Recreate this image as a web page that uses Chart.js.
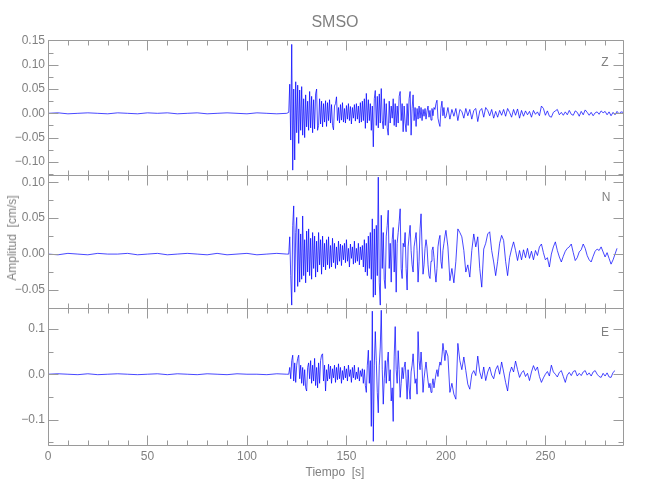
<!DOCTYPE html>
<html lang="es">
<head>
  <meta charset="UTF-8">
  <title>SMSO</title>
  <script src="https://cdn.jsdelivr.net/npm/chart.js"></script>
  <style>
    body {
      margin: 0;
      background-color: #fff;
    }
    #wrap {
      position: relative;
      width: 650px;
      height: 500px;
      font-family: "Liberation Sans", Arial, sans-serif;
      color: #808080;
    }
    canvas {
      position: absolute;
      left: 0;
      width: 650px;
    }
    .txt {
      position: absolute;
      white-space: nowrap;
      transform: translate(-50%, -50%);
      line-height: 1;
    }
  </style>
</head>
<body>
  <div id="wrap">
    <canvas id="panelZ" width="650" height="183" style="top:0px; height:183px"></canvas>
    <canvas id="panelN" width="650" height="149" style="top:167px; height:149px"></canvas>
    <canvas id="panelE" width="650" height="200" style="top:300px; height:200px"></canvas>

    <div class="txt" style="left:335px; top:22px; font-size:16px;">SMSO</div>
    <div class="txt" style="left:605px; top:62px; font-size:12px;">Z</div>
    <div class="txt" style="left:606px; top:197px; font-size:12px;">N</div>
    <div class="txt" style="left:605px; top:332px; font-size:12px;">E</div>
    <div class="txt" style="left:12px; top:238px; font-size:12px; transform: translate(-50%, -50%) rotate(-90deg);">Amplitud&nbsp;&nbsp;[cm/s]</div>
    <div class="txt" style="left:335px; top:472px; font-size:12px;">Tiempo&nbsp;&nbsp;[s]</div>
  </div>

  <script>
    // amplitudes are in units of 0.001 cm/s
    const AMP_UNIT = 0.001;

    // sampling of the three pieces of every trace (seconds)
    const PRE_DT = 5;
    const EARLY_T0 = 121, EARLY_DT = 0.5;
    const LATE_T0 = 200, LATE_DT = 1;

    // ---- Z component ----
    const zPre = [0, 1, -1, 0, 1, 0, -1, 1, 0, -1, 1, 0, 1, -1, 0, 1, -1, 0, 1, 0, -1, 1, 0, -1, 0];
    const zEarly = [
      2, 60, -55, 142, -117, 50, -96, 65, -40, 58,
      -62, 48, -35, 55, -45, 30, -50, 38, -28, 25,
      -35, 45, -30, 35, -40, 28, -32, 40, 50, -35,
      -25, 30, -22, 25, -28, 20, -18, 26, -27, 22,
      -15, 28, -20, 18, -25, -34, 15, 20, 34, -15,
      12, -20, 18, -14, 22, -18, 10, -20, 16, -12,
      20, -15, 14, -22, 12, -10, 18, -16, 20, -12,
      15, -20, 22, -18, 25, -15, 30, -31, 41, -20,
      28, -15, 20, -35, 15, -69, 30, 47, -25, 35,
      -30, 40, -20, 51, -15, -32, 30, -25, 20, -30,
      -45, 25, -20, 15, -10, 30, -25, 20, -28, 15,
      -20, 35, 45, -15, 20, -38, 15, -20, -38, 20,
      -25, 30, 45, -45, 10, 38, -15, 12, -27, 10,
      -12, 15, -10, 12, -15, 8, -6, 10, -12, 5,
      15, -8, 6, -14, 10, -5, 12, 8, 20, 27,
      -10, -20, -27, 10, 25, -5, 12, -10
    ];
    const zLate = [
      -8, 12, -12, 8, -6, 10, -15, 8, 4, -10,
      10, -5, 8, -12, 6, 10, -17, 5, 10, -8,
      12, 6, -5, 8, -10, 4, -8, 6, -4, 8,
      -6, 10, 2, -8, 8, -4, 9, -10, 6, -6,
      5, -3, 4, -8, 6, -2, 3, -5, 15, 10,
      -4, 5, -6, -8, 2, 5, 8, -3, 2, -4,
      3, -3, 6, -2, -4, 5, 2, -6, 4, -3,
      7, 2, -4, 2, -5, 1, 3, -2, 5, 1,
      4, -3, 3, -5, 2, -3, 4, -1, 3, 2
    ];

    // ---- N component ----
    const nPre = [0, -1, 1, 0, -1, 1, 0, 0, 1, -1, 0, 1, -1, 0, 1, 0, -1, 1, -1, 0, 1, -1, 0, 1, 0];
    const nEarly = [
      0, 24, -30, -71, 40, 67, -53, 30, 51, -45,
      35, -39, 28, -35, 53, -30, 20, -40, 32, -25,
      35, -30, 22, -35, 30, -20, 25, -32, 18, -25,
      30, -15, 20, -28, 25, -18, 15, -22, 20, -15,
      24, -20, 12, -18, 22, -12, 15, -20, 10, -15,
      18, -10, 14, -16, 12, -8, 15, -12, 20, -10,
      8, -18, 14, -6, 10, -14, 18, -12, 8, -10,
      15, -15, 10, -8, 12, -18, 20, -25, 15, -30,
      25, -20, 30, -35, 49, -60, 35, -57, 40, -30,
      107, -40, -71, 54, -20, 30, -35, -48, 25, 40,
      61, -20, 15, -39, 20, 37, -25, 20, -53, 15,
      30, 45, 63, -20, -34, 15, 10, 30, -20, -50,
      10, 25, 40, 5, -15, -25, 10, 20, 30, 5,
      -39, -10, 35, 56, 10, -28, -15, 8, 20, 10,
      -15, -30, -34, -10, 5, 10, -5, -25, -39, -20,
      10, 20, 26, -10, -20, 5, 15, 25
    ];
    const nLate = [
      33, 10, -37, -20, -40, -10, 35, 30, 24, 5,
      -25, -15, -32, 5, 28, 10, 24, -20, -46, 7,
      15, 28, 31, 5, -11, -30, -10, 15, 26, 19,
      -10, -30, -5, 7, 17, 5, -9, 5, -8, 6,
      -5, 8, -6, 4, -8, 5, -2, 10, 14, 2,
      -8, -5, -18, 0, 10, 17, 5, -4, -11, -3,
      4, 8, 10, 14, 2, -9, -5, 3, 6, 14,
      8, -2, -8, -11, -3, 4, 7, 5, 10, 3,
      -4, 2, -6, -14, -8, 0, 8
    ];

    // ---- E component ----
    const ePre = [0, 1, 0, -1, 1, -1, 0, 1, 0, -1, 0, 1, -1, 1, 0, -1, 1, 0, -1, 1, 0, 0, -1, 1, 0];
    const eEarly = [
      0, 15, -10, 30, 42, -15, 25, -18, 20, 35,
      42, -10, 20, -20, 15, -25, 10, -30, -37, 15,
      25, -10, 30, -20, 20, -15, 35, -25, 15, -30,
      25, -20, 30, 42, 45, -15, 20, -37, 10, -15,
      22, -10, 18, -20, 12, -8, 20, -18, 15, -12,
      23, -10, 15, -20, 8, -12, 18, -8, 12, -15,
      20, -5, 10, -18, 15, -8, 20, -12, 5, -10,
      15, -15, 8, -5, 12, -20, 10, -25, -40, 20,
      53, -20, 30, -115, 139, -148, 20, 94, 30, -40,
      -85, 20, 60, 141, 10, -66, -10, 30, -20, 25,
      49, -15, 10, -59, -30, -104, 40, 105, 10, -20,
      52, 10, -51, -20, 15, -10, 15, 27, -10, -55,
      10, -30, -55, 5, 20, 45, 10, -20, -10, -44,
      94, 30, 10, 49, 15, -40, -10, 10, 27, 5,
      -15, -30, -20, -40, -25, -10, -30, -14, 0, 10,
      -5, 15, 27, 20, 40, 68, 50, 30
    ];
    const eLate = [
      53, 40, -40, -20, -44, -55, 68, 30, 10, 38,
      8, -22, -33, 0, 8, -3, 40, 5, -10, 16,
      -14, 5, 16, -2, -10, 10, 19, 0, 27, 5,
      -18, -37, 2, 16, 5, 29, 10, -7, 3, 8,
      -5, 2, -14, 5, 19, 8, 16, -5, -18, -8,
      0, 6, -4, 20, 5, 0, -6, 4, 8, -5,
      -18, -2, 4, -3, 6, 8, -4, 2, -3, 5,
      8, -2, 3, -4, 5, 8, 0, -5, -7, 2,
      -4, 3, -6, -7, 4, 8
    ];

    // axis ranges
    const X_MAX = 289;
    const X_MAJOR = 50, X_MINOR = 10;
    const X_TICK_LABELS = ['0', '50', '100', '150', '200', '250'];

    const LINE_COLOR = 'rgba(0, 0, 255, 0.9)';
    const AXIS_COLOR = '#9a9a9a';
    const TEXT_COLOR = '#808080';
    const FONT = '"Liberation Sans", Arial, sans-serif';

    function buildTrace(pre, early, late) {
      const pts = [];
      pre.forEach((v, i) => pts.push({ x: i * PRE_DT, y: v * AMP_UNIT }));
      early.forEach((v, i) => pts.push({ x: EARLY_T0 + i * EARLY_DT, y: v * AMP_UNIT }));
      late.forEach((v, i) => pts.push({ x: LATE_T0 + i * LATE_DT, y: v * AMP_UNIT }));
      return pts;
    }

    function fmt(v, dec) {
      if (Math.abs(v) < 1e-9) v = 0;
      const s = Math.abs(v).toFixed(dec);
      return v < 0 ? '\u2212' + s : s;
    }

    // frame plus inward tick marks on all four sides (IDL style)
    const frameTicks = {
      id: 'frameTicks',
      afterDatasetsDraw(chart, args, opts) {
        const { ctx, chartArea: a } = chart;
        const x = chart.scales.x, y = chart.scales.y;
        ctx.save();
        ctx.strokeStyle = AXIS_COLOR;
        ctx.lineWidth = 1;
        ctx.beginPath();
        // same pixel row for a panel's bottom edge and the next panel's top edge
        const L = Math.round(a.left) + 0.5, R = Math.round(a.right) + 0.5;
        const T = Math.round(a.top) + 0.5, B = Math.round(a.bottom) + 0.5;
        ctx.rect(L, T, R - L, B - T);
        for (let t = 0; t <= x.max; t += X_MINOR) {
          const px = Math.round(x.getPixelForValue(t)) + 0.5;
          const len = t % X_MAJOR === 0 ? 10 : 5;
          ctx.moveTo(px, T); ctx.lineTo(px, T + len);
          ctx.moveTo(px, B); ctx.lineTo(px, B - len);
        }
        const k0 = Math.ceil(y.min / opts.minor - 1e-6);
        for (let k = k0; k * opts.minor <= y.max + 1e-9; k++) {
          const v = k * opts.minor;
          const py = Math.round(y.getPixelForValue(v)) + 0.5;
          const r = v / opts.major;
          const len = Math.abs(r - Math.round(r)) < 1e-6 ? 10 : 5;
          ctx.moveTo(L, py); ctx.lineTo(L + len, py);
          ctx.moveTo(R, py); ctx.lineTo(R - len, py);
        }
        ctx.stroke();
        ctx.restore();
      }
    };

    function makePanel(id, data, yMin, yMax, major, minor, dec, padTop, padBottom, showX) {
      return new Chart(document.getElementById(id), {
        type: 'line',
        data: {
          datasets: [{
            data: data,
            borderColor: LINE_COLOR,
            borderWidth: 0.8,
            pointRadius: 0,
            tension: 0,
            fill: false
          }]
        },
        options: {
          responsive: false,
          maintainAspectRatio: false,
          animation: false,
          events: [],
          layout: { padding: { left: 0, right: 27, top: padTop, bottom: padBottom } },
          plugins: {
            legend: { display: false },
            tooltip: { enabled: false },
            frameTicks: { major: major, minor: minor }
          },
          scales: {
            x: {
              type: 'linear',
              min: 0,
              max: X_MAX,
              display: showX,
              grid: { display: false, drawTicks: false },
              border: { display: false },
              ticks: {
                stepSize: X_MAJOR,
                includeBounds: false,
                maxRotation: 0,
                padding: 4,
                color: TEXT_COLOR,
                font: { family: FONT, size: 12 },
                callback: (v) => X_TICK_LABELS[v / X_MAJOR]
              },
              afterFit: (s) => {
                s.height = showX ? 55 : 0;
                s.paddingLeft = 0;
                s.paddingRight = 0;
              }
            },
            y: {
              min: yMin,
              max: yMax,
              grid: { display: false, drawTicks: false },
              border: { display: false },
              ticks: {
                stepSize: major,
                includeBounds: false,
                padding: 3,
                color: TEXT_COLOR,
                font: { family: FONT, size: 12 },
                callback: (v) => fmt(v, dec)
              },
              afterFit: (s) => {
                s.width = 48;
                s.paddingTop = 0;
                s.paddingBottom = 0;
              }
            }
          }
        },
        plugins: [frameTicks]
      });
    }

    makePanel('panelZ', buildTrace(zPre, zEarly, zLate), -0.127, 0.151, 0.05, 0.025, 2, 40, 8, false);
    makePanel('panelN', buildTrace(nPre, nEarly, nLate), -0.075, 0.11, 0.05, 0.025, 2, 8, 8, false);
    makePanel('panelE', buildTrace(ePre, eEarly, eLate), -0.156, 0.146, 0.1, 0.05, 1, 8, 0, true);
  </script>
</body>
</html>
